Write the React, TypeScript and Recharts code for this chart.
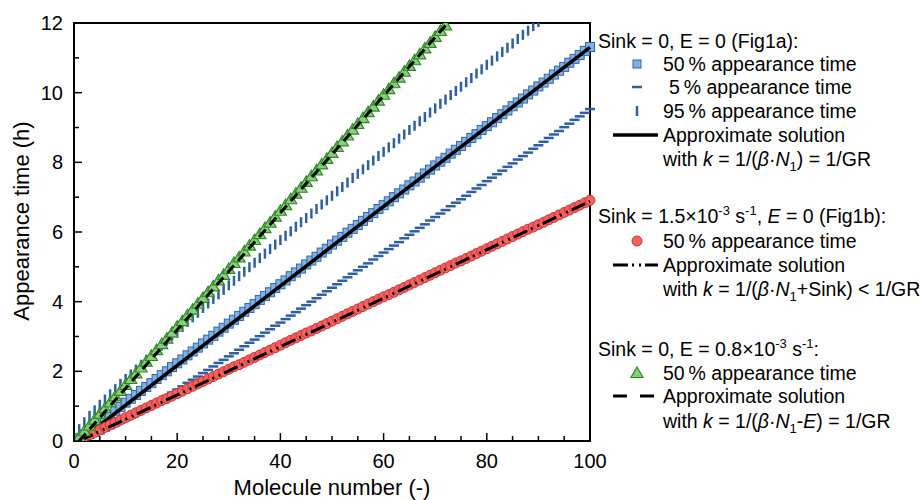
import React from 'react';
import { ComposedChart, Scatter, XAxis, YAxis, ReferenceArea } from 'recharts';

// molecule index (x)
const moleculeNumbers = [
  1, 2, 3, 4, 5, 6, 7, 8, 9, 10, 11, 12, 13, 14, 15, 16, 17, 18, 19, 20,
  21, 22, 23, 24, 25, 26, 27, 28, 29, 30, 31, 32, 33, 34, 35, 36, 37, 38, 39, 40,
  41, 42, 43, 44, 45, 46, 47, 48, 49, 50, 51, 52, 53, 54, 55, 56, 57, 58, 59, 60,
  61, 62, 63, 64, 65, 66, 67, 68, 69, 70, 71, 72, 73, 74, 75, 76, 77, 78, 79, 80,
  81, 82, 83, 84, 85, 86, 87, 88, 89, 90, 91, 92, 93, 94, 95, 96, 97, 98, 99, 100,
];

// Sink = 0, E = 0 : 50 %, 5 %, 95 % appearance time (h)
const fig1aMedian = [
  0.08, 0.19, 0.30, 0.42, 0.53, 0.64, 0.76, 0.87, 0.98, 1.10,
  1.21, 1.32, 1.44, 1.55, 1.66, 1.78, 1.89, 2.00, 2.12, 2.23,
  2.34, 2.46, 2.57, 2.68, 2.80, 2.91, 3.02, 3.14, 3.25, 3.37,
  3.48, 3.59, 3.71, 3.82, 3.93, 4.05, 4.16, 4.27, 4.39, 4.50,
  4.61, 4.73, 4.84, 4.95, 5.07, 5.18, 5.29, 5.41, 5.52, 5.64,
  5.75, 5.86, 5.98, 6.09, 6.20, 6.32, 6.43, 6.54, 6.66, 6.77,
  6.88, 7.00, 7.11, 7.22, 7.34, 7.45, 7.56, 7.68, 7.79, 7.91,
  8.02, 8.13, 8.25, 8.36, 8.47, 8.59, 8.70, 8.81, 8.93, 9.04,
  9.15, 9.27, 9.38, 9.49, 9.61, 9.72, 9.83, 9.95, 10.06, 10.18,
  10.29, 10.40, 10.52, 10.63, 10.74, 10.86, 10.97, 11.08, 11.20, 11.31,
];

const fig1aLow = [
  0.01, 0.04, 0.09, 0.16, 0.22, 0.30, 0.37, 0.45, 0.53, 0.60,
  0.67, 0.76, 0.85, 0.94, 1.02, 1.11, 1.20, 1.30, 1.39, 1.48,
  1.57, 1.67, 1.76, 1.85, 1.95, 2.04, 2.14, 2.24, 2.33, 2.43,
  2.52, 2.62, 2.72, 2.82, 2.91, 3.01, 3.11, 3.21, 3.31, 3.40,
  3.50, 3.60, 3.70, 3.80, 3.90, 4.00, 4.10, 4.20, 4.30, 4.40,
  4.50, 4.60, 4.70, 4.80, 4.90, 5.00, 5.10, 5.21, 5.31, 5.41,
  5.51, 5.61, 5.71, 5.82, 5.92, 6.02, 6.12, 6.22, 6.33, 6.43,
  6.53, 6.63, 6.74, 6.84, 6.94, 7.04, 7.15, 7.25, 7.35, 7.46,
  7.56, 7.66, 7.76, 7.87, 7.97, 8.08, 8.18, 8.28, 8.39, 8.49,
  8.59, 8.70, 8.80, 8.90, 9.01, 9.11, 9.22, 9.32, 9.42, 9.53,
];

const fig1aHigh = [
  0.34, 0.54, 0.72, 0.88, 1.04, 1.19, 1.34, 1.49, 1.64, 1.78,
  1.91, 2.05, 2.19, 2.33, 2.47, 2.61, 2.74, 2.88, 3.02, 3.15,
  3.28, 3.42, 3.55, 3.68, 3.82, 3.95, 4.08, 4.21, 4.34, 4.47,
  4.60, 4.73, 4.86, 4.99, 5.12, 5.25, 5.38, 5.51, 5.64, 5.77,
  5.89, 6.02, 6.15, 6.28, 6.40, 6.53, 6.66, 6.79, 6.91, 7.04,
  7.17, 7.29, 7.42, 7.55, 7.67, 7.80, 7.92, 8.05, 8.18, 8.30,
  8.43, 8.55, 8.68, 8.80, 8.93, 9.05, 9.18, 9.30, 9.43, 9.55,
  9.68, 9.80, 9.93, 10.05, 10.17, 10.30, 10.42, 10.55, 10.67, 10.80,
  10.92, 11.04, 11.17, 11.29, 11.41, 11.54, 11.66, 11.78, 11.91, 12.03,
];

// Sink = 1.5e-3, E = 0 : 50 %
const fig1bMedian = [
  0.05, 0.12, 0.18, 0.25, 0.32, 0.39, 0.46, 0.53, 0.60, 0.67,
  0.74, 0.81, 0.88, 0.95, 1.02, 1.09, 1.16, 1.22, 1.29, 1.36,
  1.43, 1.50, 1.57, 1.64, 1.71, 1.78, 1.85, 1.92, 1.99, 2.06,
  2.13, 2.19, 2.26, 2.33, 2.40, 2.47, 2.54, 2.61, 2.68, 2.75,
  2.82, 2.89, 2.96, 3.03, 3.10, 3.16, 3.23, 3.30, 3.37, 3.44,
  3.51, 3.58, 3.65, 3.72, 3.79, 3.86, 3.93, 4.00, 4.07, 4.14,
  4.20, 4.27, 4.34, 4.41, 4.48, 4.55, 4.62, 4.69, 4.76, 4.83,
  4.90, 4.97, 5.04, 5.11, 5.17, 5.24, 5.31, 5.38, 5.45, 5.52,
  5.59, 5.66, 5.73, 5.80, 5.87, 5.94, 6.01, 6.08, 6.14, 6.21,
  6.28, 6.35, 6.42, 6.49, 6.56, 6.63, 6.70, 6.77, 6.84, 6.91,
];

// Sink = 0, E = 0.8e-3 : 50 %
const evapMedian = [
  0.11, 0.28, 0.44, 0.61, 0.78, 0.94, 1.11, 1.28, 1.44, 1.61,
  1.78, 1.94, 2.11, 2.28, 2.44, 2.61, 2.78, 2.94, 3.11, 3.28,
  3.44, 3.61, 3.77, 3.94, 4.11, 4.27, 4.44, 4.61, 4.77, 4.94,
  5.11, 5.27, 5.44, 5.61, 5.77, 5.94, 6.11, 6.27, 6.44, 6.61,
  6.77, 6.94, 7.10, 7.27, 7.44, 7.60, 7.77, 7.94, 8.10, 8.27,
  8.44, 8.60, 8.77, 8.94, 9.10, 9.27, 9.44, 9.60, 9.77, 9.94,
  10.10, 10.27, 10.43, 10.60, 10.77, 10.93, 11.10, 11.27, 11.43, 11.60,
  11.77, 11.93,
];

// approximate solutions (straight lines)
const approxX = [1, 100];
const approxGR = [0, 11.3];
const approxSink = [0, 6.88];
const approxEvap = [0, 16.63];

const xTicks = [0, 5, 10, 15, 20, 25, 30, 35, 40, 45, 50, 55, 60, 65, 70, 75, 80, 85, 90, 95, 100];
const yTicks = [0, 1, 2, 3, 4, 5, 6, 7, 8, 9, 10, 11, 12];

const toPoints = (values: number[]) => values.map((t, i) => ({ n: moleculeNumbers[i], t }));
const toLine = (values: number[]) => values.map((t, i) => ({ n: approxX[i], t }));

const BLUE = '#2f5f9f';
const FONT = '"Liberation Sans", Arial, sans-serif';
const DASHDOT = '15 4 2 5 2 4';

const NoMark = () => <g />;
const Square = (p: any) => (
  <rect x={p.cx - 4.5} y={p.cy - 4.5} width={9} height={9} fill="#80b1e0" stroke="#2f66ab" strokeWidth={1} />
);
const HDash = (p: any) => (
  <line x1={p.cx - 5} x2={p.cx + 5} y1={p.cy} y2={p.cy} stroke={BLUE} strokeWidth={2.5} />
);
const VDash = (p: any) => (
  <line x1={p.cx} x2={p.cx} y1={p.cy - 5} y2={p.cy + 5} stroke={BLUE} strokeWidth={2.5} />
);
const Dot = (p: any) => (
  <circle cx={p.cx} cy={p.cy} r={5} fill="#f4615f" stroke="#cc3333" strokeWidth={1} />
);
const Tri = (p: any) => (
  <path
    d={`M${p.cx},${p.cy - 6} L${p.cx + 6},${p.cy + 4.5} L${p.cx - 6},${p.cy + 4.5} Z`}
    fill="#88cf75"
    stroke="#2e8a28"
    strokeWidth={1.2}
  />
);

const XTick = (props: any) => {
  const { x, y, payload } = props;
  const major = payload.value % 20 === 0;
  return (
    <g>
      <line x1={x} x2={x} y1={y} y2={y - (major ? 8 : 5)} stroke="#000" strokeWidth={1.5} />
      {major && (
        <text x={x} y={y + 27} textAnchor="middle" fontSize={20} fill="#000">
          {payload.value}
        </text>
      )}
    </g>
  );
};

const YTick = (props: any) => {
  const { x, y, payload } = props;
  const major = payload.value % 2 === 0;
  return (
    <g>
      <line x1={x} x2={x + (major ? 8 : 5)} y1={y} y2={y} stroke="#000" strokeWidth={1.5} />
      {major && (
        <text x={x - 11} y={y + 7} textAnchor="end" fontSize={20} fill="#000">
          {payload.value}
        </text>
      )}
    </g>
  );
};

// "β·N₁" with the subscript, then the rest of the line back on the baseline
const BetaN = ({ rest }: { rest: React.ReactNode }) => (
  <>
    <tspan fontStyle="italic">β</tspan>·<tspan fontStyle="italic">N</tspan>
    <tspan dy={5} fontSize={13}>1</tspan>
    <tspan dy={-5}>{rest}</tspan>
  </>
);

const Legend = () => (
  <svg
    width={920}
    height={500}
    style={{ position: 'absolute', left: 0, top: 0, pointerEvents: 'none' }}
    fontFamily={FONT}
    fontSize={19.5}
    fill="#000"
  >
    <text transform="translate(29,221) rotate(-90)" textAnchor="middle" fontSize={22}>
      Appearance time (h)
    </text>
    <text x={332} y={495} textAnchor="middle" fontSize={22}>
      Molecule number (-)
    </text>

    <text x={598} y={48}>Sink = 0, E = 0 (Fig1a):</text>
    <rect x={633} y={60} width={8} height={8} fill="#80b1e0" stroke="#2f66ab" strokeWidth={1} />
    <text x={663} y={71}>50{'\u2009'}% appearance time</text>
    <line x1={632} x2={642} y1={87} y2={87} stroke={BLUE} strokeWidth={2.5} />
    <text x={669} y={94}>5{'\u2009'}% appearance time</text>
    <line x1={637} x2={637} y1={106} y2={116} stroke={BLUE} strokeWidth={2.5} />
    <text x={663} y={118}>95{'\u2009'}% appearance time</text>
    <line x1={613} x2={658} y1={135} y2={135} stroke="#000" strokeWidth={3.5} />
    <text x={663} y={142}>Approximate solution</text>
    <text x={663} y={166}>
      with <tspan fontStyle="italic">k</tspan> = 1/(<BetaN rest=") = 1/GR" />
    </text>

    <text x={598} y={223}>
      Sink = 1.5×10<tspan dy={-8} fontSize={13}>-3</tspan>
      <tspan dy={8}> s</tspan>
      <tspan dy={-8} fontSize={13}>-1</tspan>
      <tspan dy={8}>, </tspan>
      <tspan fontStyle="italic">E</tspan> = 0 (Fig1b):
    </text>
    <circle cx={637} cy={241} r={5} fill="#f4615f" stroke="#cc3333" strokeWidth={1} />
    <text x={663} y={248}>50{'\u2009'}% appearance time</text>
    <line x1={613} x2={658} y1={265} y2={265} stroke="#000" strokeWidth={3} strokeDasharray={DASHDOT} />
    <text x={663} y={272}>Approximate solution</text>
    <text x={663} y={296}>
      with <tspan fontStyle="italic">k</tspan> = 1/(<BetaN rest="+Sink) < 1/GR" />
    </text>

    <text x={598} y={356}>
      Sink = 0, E = 0.8×10<tspan dy={-8} fontSize={13}>-3</tspan>
      <tspan dy={8}> s</tspan>
      <tspan dy={-8} fontSize={13}>-1</tspan>
      <tspan dy={8}>:</tspan>
    </text>
    <path d="M637,367 L643,377.5 L631,377.5 Z" fill="#88cf75" stroke="#2e8a28" strokeWidth={1.2} />
    <text x={663} y={380}>50{'\u2009'}% appearance time</text>
    <line x1={613} x2={658} y1={396} y2={396} stroke="#000" strokeWidth={3} strokeDasharray="14 13" />
    <text x={663} y={403}>Approximate solution</text>
    <text x={663} y={428}>
      with <tspan fontStyle="italic">k</tspan> = 1/(
      <BetaN
        rest={
          <>
            -<tspan fontStyle="italic">E</tspan>) = 1/GR
          </>
        }
      />
    </text>
  </svg>
);

export default function App() {
  return (
    <div style={{ position: 'relative', width: 920, height: 500, fontFamily: FONT }}>
      <style>{'body{margin:0}'}</style>
      <ComposedChart width={920} height={500} margin={{ top: 23, right: 330, bottom: 0, left: 0 }}>
        <XAxis
          dataKey="n"
          type="number"
          domain={[0, 100]}
          ticks={xTicks}
          interval={0}
          height={59}
          tickSize={0}
          tickMargin={0}
          tick={<XTick />}
          axisLine={{ stroke: '#000', strokeWidth: 2 }}
        />
        <YAxis
          type="number"
          domain={[0, 12]}
          ticks={yTicks}
          interval={0}
          width={74}
          allowDataOverflow
          tickSize={0}
          tickMargin={0}
          tick={<YTick />}
          axisLine={{ stroke: '#000', strokeWidth: 2 }}
        />
        <Scatter data={toPoints(fig1aHigh)} dataKey="t" shape={<VDash />} isAnimationActive={false} />
        <Scatter data={toPoints(fig1aLow)} dataKey="t" shape={<HDash />} isAnimationActive={false} />
        <Scatter data={toPoints(fig1aMedian)} dataKey="t" shape={<Square />} isAnimationActive={false} />
        <Scatter
          data={toLine(approxGR)}
          dataKey="t"
          shape={<NoMark />}
          line={{ stroke: '#000', strokeWidth: 3.5 }}
          isAnimationActive={false}
        />
        <Scatter data={toPoints(fig1bMedian)} dataKey="t" shape={<Dot />} isAnimationActive={false} />
        <Scatter
          data={toLine(approxSink)}
          dataKey="t"
          shape={<NoMark />}
          line={{ stroke: '#000', strokeWidth: 3, strokeDasharray: DASHDOT }}
          isAnimationActive={false}
        />
        <Scatter data={toPoints(evapMedian)} dataKey="t" shape={<Tri />} isAnimationActive={false} />
        <Scatter
          data={toLine(approxEvap)}
          dataKey="t"
          shape={<NoMark />}
          line={{ stroke: '#000', strokeWidth: 3, strokeDasharray: '10 6' }}
          isAnimationActive={false}
        />
        <ReferenceArea x1={0} x2={100} y1={0} y2={12} fill="none" stroke="#000" strokeWidth={2} ifOverflow="visible" />
      </ComposedChart>
      <Legend />
    </div>
  );
}
